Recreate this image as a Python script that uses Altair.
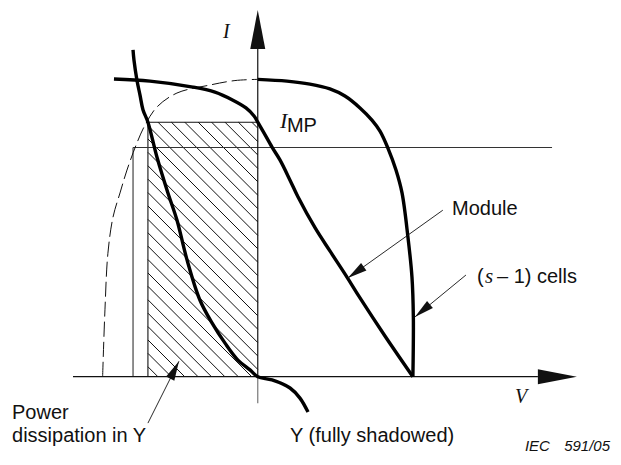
import math
import numpy as np
import pandas as pd
import altair as alt

# ---------------- data (normalised units: V_oc = 1, I_sc = 1) ----------------
module_v = [-0.927, -0.695, -0.418, -0.276, -0.160, -0.076, -0.024, 0.0, 0.040, 0.092,
            0.143, 0.208, 0.259, 0.369, 0.465, 0.575, 0.659, 0.820, 1.0]
module_i = [1.001, 0.994, 0.974, 0.957, 0.930, 0.904, 0.877, 0.856, 0.820, 0.772,
            0.729, 0.661, 0.605, 0.501, 0.423, 0.335, 0.265, 0.137, 0.0]

cells_v = [0.0, 0.188, 0.336, 0.465, 0.562, 0.659, 0.736, 0.788, 0.839, 0.891,
           0.930, 0.968, 0.994, 1.003, 1.0]
cells_i = [1.0, 0.994, 0.984, 0.968, 0.944, 0.904, 0.863, 0.826, 0.769, 0.695,
           0.618, 0.470, 0.336, 0.201, 0.0]

mirror_v = [-1.0, -0.985, -0.966, -0.933, -0.888, -0.843, -0.779, -0.727, -0.650,
            -0.521, -0.308, -0.147, 0.0]
mirror_i = [0.0, 0.225, 0.415, 0.537, 0.618, 0.695, 0.786, 0.846, 0.907,
            0.954, 0.981, 0.996, 1.0]

shadow_v = [-0.804, -0.798, -0.779, -0.759, -0.740, -0.708, -0.650, -0.579, -0.521,
            -0.456, -0.373, -0.295, -0.211, -0.128, -0.050, 0.0, 0.092, 0.208, 0.272, 0.324]
shadow_i = [1.099, 1.065, 0.998, 0.947, 0.898, 0.856, 0.739, 0.618, 0.527,
            0.393, 0.258, 0.181, 0.113, 0.056, 0.023, 0.0, -0.011, -0.038, -0.072, -0.119]

I_MP = 0.856          # current at maximum power point
V_Y = -0.708          # voltage of shadowed cell Y at I_MP
I_LINE = 0.771        # thin horizontal reference line
V_LINE = -0.804       # thin vertical reference line
I_LINE_END = 1.897

V_AXIS_START, V_AXIS_END, V_AXIS_TIP = -1.191, 1.806, 2.057
I_AXIS_START, I_AXIS_END, I_AXIS_TIP = -0.089, 1.102, 1.233

# annotation arrows: (tail V, tail I, tip V, tip I)
ann_tail_v = [1.193, 1.342, -0.708]
ann_tail_i = [0.560, 0.342, -0.156]
ann_tip_v = [0.581, 1.013, -0.508]
ann_tip_i = [0.332, 0.201, 0.052]

# labels
sans_text = ["Module", "(", "\u2013 1) cells", "Power", "dissipation in Y", "Y (fully shadowed)", "MP"]
sans_v = [1.252, 1.413, 1.542, -1.584, -1.584, 0.208, 0.188]
sans_i = [0.543, 0.315, 0.315, -0.142, -0.220, -0.220, 0.823]

serif_text = ["I", "V", "s", "I"]
serif_v = [-0.224, 1.659, 1.465, 0.143]
serif_i = [1.139, -0.089, 0.315, 0.836]
serif_size = [20, 20, 21, 22]

note_text = ["IEC", "591/05"]
note_v = [1.722, 1.975]
note_i = [-0.250, -0.250]

# ---------------- layout ----------------
W, H = 605, 449
XD = [-1.610, 2.290]
YD = [-0.270, 1.240]
SX = W / (XD[1] - XD[0])
SY = H / (YD[1] - YD[0])

xs = alt.Scale(domain=XD, nice=False, zero=False)
ys = alt.Scale(domain=YD, nice=False, zero=False)
X = lambda f: alt.X(f, type="quantitative", scale=xs, axis=None)
Y = lambda f: alt.Y(f, type="quantitative", scale=ys, axis=None)


def curve(vs, is_, width, dash=None, color="black"):
    df = pd.DataFrame({"v": vs, "i": is_, "o": range(len(vs))})
    kw = dict(color=color, strokeWidth=width, interpolate="catmull-rom", clip=False)
    if dash:
        kw["strokeDash"] = dash
    return alt.Chart(df).mark_line(**kw).encode(x=X("v"), y=Y("i"), order="o:Q")


def rules(segs, width, color="black"):
    df = pd.DataFrame(segs, columns=["v", "i", "v2", "i2"])
    return alt.Chart(df).mark_rule(color=color, strokeWidth=width).encode(
        x=X("v"), y=Y("i"), x2="v2", y2="i2")


def screen_angle(tv, ti, hv, hi):
    dx = (hv - tv) * SX
    dy = -(hi - ti) * SY
    return math.degrees(math.atan2(dx, -dy)) % 360


# hatch lines inside the power rectangle (computed in screen space, 45 deg)
px0 = (V_Y - XD[0]) * SX
px1 = (0 - XD[0]) * SX
py0 = (YD[1] - I_MP) * SY
py1 = (YD[1] - 0) * SY
hatch = []
step = 13.4
k = (py0 - px1) + 6
while k < py1 - px0:
    a = max(px0, py0 - k)
    b = min(px1, py1 - k)
    if b > a:
        hatch.append([XD[0] + a / SX, YD[1] - (a + k) / SY,
                      XD[0] + b / SX, YD[1] - (b + k) / SY])
    k += step

hatch_layer = rules(hatch, 1.0, "#111")
rect_layer = rules([[V_Y, 0, V_Y, I_MP], [V_Y, I_MP, 0, I_MP]], 1.1, "#111")

ref_layer = rules([[V_LINE, I_LINE, I_LINE_END, I_LINE], [V_LINE, 0, V_LINE, I_LINE]], 1.1, "#333")

axes_layer = rules([[V_AXIS_START, 0, V_AXIS_END, 0], [0, 0, 0, I_AXIS_END]], 1.2, "#111")
axis_ext = rules([[0, I_AXIS_START, 0, 0]], 1.2, "#777")

AXIS_HEAD = "M0,0L0.385,2L-0.385,2Z"
SMALL_HEAD = "M0,0L0.47,2L-0.47,2Z"

axis_heads = pd.DataFrame({
    "v": [V_AXIS_TIP, 0], "i": [0, I_AXIS_TIP],
    "a": [screen_angle(V_AXIS_END, 0, V_AXIS_TIP, 0), screen_angle(0, I_AXIS_END, 0, I_AXIS_TIP)]})
axis_head_layer = alt.Chart(axis_heads).mark_point(
    shape=AXIS_HEAD, filled=True, opacity=1, size=1521, color="#111", strokeWidth=0
).encode(x=X("v"), y=Y("i"), angle=alt.Angle("a:Q", scale=None))

ann_segs = [[ann_tail_v[j], ann_tail_i[j], ann_tip_v[j], ann_tip_i[j]] for j in range(3)]
ann_layer = rules(ann_segs, 0.9, "#111")
ann_heads = pd.DataFrame({
    "v": ann_tip_v, "i": ann_tip_i,
    "a": [screen_angle(ann_tail_v[j], ann_tail_i[j], ann_tip_v[j], ann_tip_i[j]) for j in range(3)]})
ann_head_layer = alt.Chart(ann_heads).mark_point(
    shape=SMALL_HEAD, filled=True, opacity=1, size=380, color="#111", strokeWidth=0
).encode(x=X("v"), y=Y("i"), angle=alt.Angle("a:Q", scale=None))

sans_layer = alt.Chart(pd.DataFrame({"t": sans_text, "v": sans_v, "i": sans_i})).mark_text(
    align="left", baseline="alphabetic", font="Liberation Sans", fontSize=20, color="#111"
).encode(x=X("v"), y=Y("i"), text="t:N")

serif_layer = alt.Chart(pd.DataFrame({"t": serif_text, "v": serif_v, "i": serif_i, "s": serif_size})).mark_text(
    align="left", baseline="alphabetic", font="Liberation Serif", fontStyle="italic", color="#111"
).encode(x=X("v"), y=Y("i"), text="t:N", size=alt.Size("s:Q", scale=None, legend=None))

note_layer = alt.Chart(pd.DataFrame({"t": note_text, "v": note_v, "i": note_i})).mark_text(
    align="left", baseline="alphabetic", font="Liberation Sans", fontStyle="italic", fontSize=15, color="#111"
).encode(x=X("v"), y=Y("i"), text="t:N")

chart = alt.layer(
    hatch_layer, rect_layer, ref_layer, axes_layer, axis_ext, axis_head_layer,
    curve(mirror_v, mirror_i, 1.0, [15, 5], "#111"),
    curve(module_v, module_i, 3.4),
    curve(cells_v, cells_i, 3.4),
    curve(shadow_v, shadow_i, 3.4),
    ann_layer, ann_head_layer,
    sans_layer, serif_layer, note_layer,
).properties(
    width=W, height=H, padding=0, autosize=alt.AutoSizeParams(type="none"),
    background="white"
).configure_view(stroke=None)

chart.save("out.html", embed_options={"renderer": "svg", "actions": False})
